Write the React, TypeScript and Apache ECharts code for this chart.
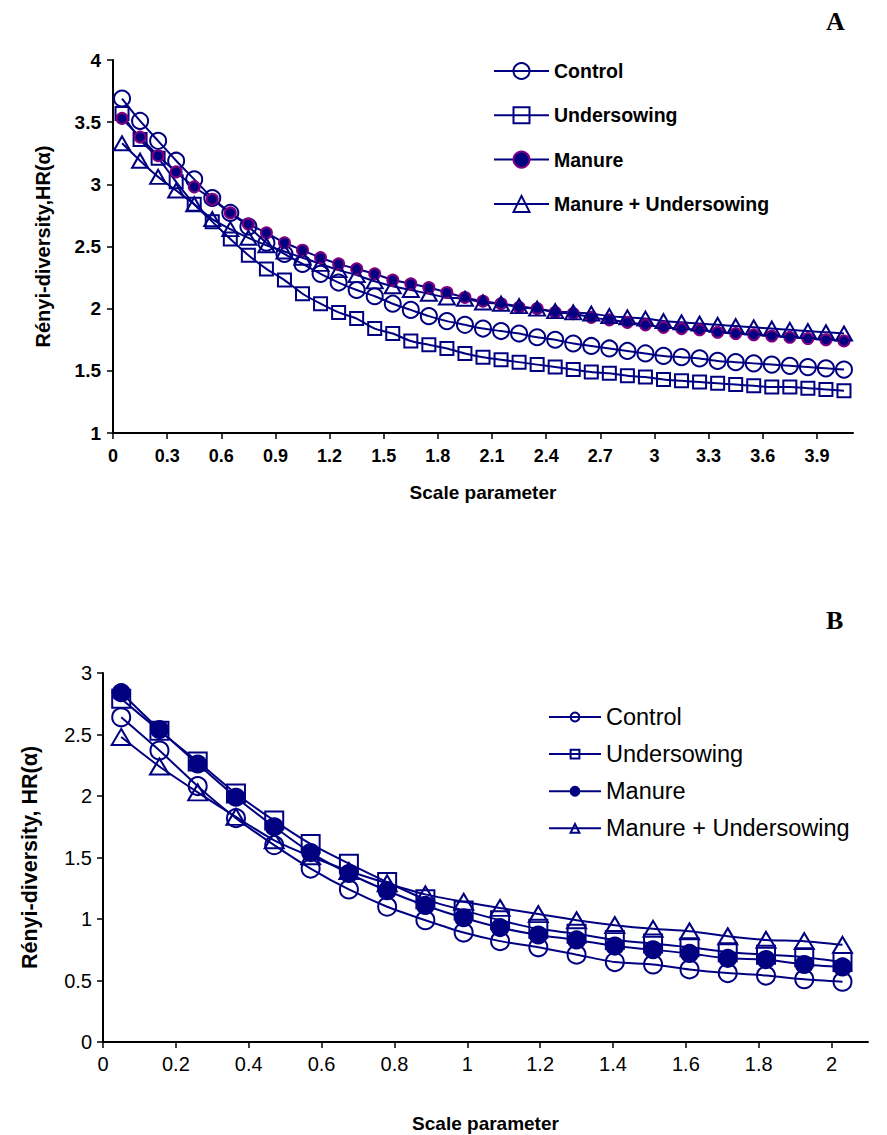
import React, { useEffect, useRef } from 'react';
import * as echarts from 'echarts';

// ---------- Panel A data ----------
const xA = [0.05, 0.15, 0.25, 0.35, 0.45, 0.55, 0.65, 0.75, 0.85, 0.95, 1.05, 1.15, 1.25, 1.35, 1.45, 1.55, 1.65, 1.75, 1.85, 1.95, 2.05, 2.15, 2.25, 2.35, 2.45, 2.55, 2.65, 2.75, 2.85, 2.95, 3.05, 3.15, 3.25, 3.35, 3.45, 3.55, 3.65, 3.75, 3.85, 3.95, 4.05];
const controlA = [3.69, 3.51, 3.35, 3.19, 3.04, 2.89, 2.77, 2.66, 2.53, 2.44, 2.36, 2.28, 2.21, 2.15, 2.10, 2.04, 1.99, 1.94, 1.90, 1.87, 1.84, 1.82, 1.80, 1.77, 1.75, 1.72, 1.70, 1.68, 1.66, 1.64, 1.62, 1.61, 1.60, 1.58, 1.57, 1.56, 1.55, 1.54, 1.53, 1.52, 1.51];
const underA = [3.57, 3.36, 3.21, 3.02, 2.84, 2.70, 2.56, 2.43, 2.32, 2.23, 2.12, 2.04, 1.97, 1.92, 1.84, 1.80, 1.74, 1.71, 1.68, 1.64, 1.61, 1.59, 1.57, 1.55, 1.53, 1.51, 1.49, 1.48, 1.46, 1.45, 1.43, 1.42, 1.41, 1.40, 1.39, 1.38, 1.37, 1.37, 1.36, 1.35, 1.34];
const manureA = [3.53, 3.38, 3.23, 3.10, 2.98, 2.88, 2.77, 2.68, 2.61, 2.53, 2.47, 2.41, 2.36, 2.32, 2.28, 2.23, 2.20, 2.17, 2.13, 2.09, 2.06, 2.04, 2.01, 2.00, 1.97, 1.96, 1.93, 1.91, 1.89, 1.87, 1.85, 1.84, 1.83, 1.81, 1.80, 1.79, 1.78, 1.77, 1.76, 1.75, 1.74];
const muA = [3.33, 3.19, 3.06, 2.95, 2.84, 2.72, 2.64, 2.57, 2.51, 2.46, 2.41, 2.36, 2.31, 2.27, 2.22, 2.18, 2.15, 2.12, 2.09, 2.08, 2.05, 2.04, 2.02, 2.00, 1.98, 1.97, 1.96, 1.94, 1.93, 1.92, 1.90, 1.89, 1.88, 1.87, 1.86, 1.85, 1.84, 1.83, 1.82, 1.81, 1.80];
const xTicksA = [0, 0.3, 0.6, 0.9, 1.2, 1.5, 1.8, 2.1, 2.4, 2.7, 3, 3.3, 3.6, 3.9];

// ---------- Panel B data ----------
const xB = [0.05, 0.155, 0.26, 0.365, 0.47, 0.57, 0.675, 0.78, 0.885, 0.99, 1.09, 1.195, 1.30, 1.405, 1.51, 1.61, 1.715, 1.82, 1.925, 2.03];
const controlB = [2.64, 2.37, 2.08, 1.82, 1.60, 1.41, 1.24, 1.10, 0.99, 0.89, 0.82, 0.77, 0.71, 0.65, 0.63, 0.59, 0.56, 0.54, 0.51, 0.49];
const underB = [2.79, 2.53, 2.28, 2.02, 1.80, 1.61, 1.45, 1.30, 1.16, 1.07, 0.99, 0.92, 0.88, 0.83, 0.80, 0.77, 0.73, 0.71, 0.69, 0.65];
const manureB = [2.84, 2.54, 2.26, 1.99, 1.75, 1.54, 1.37, 1.23, 1.11, 1.01, 0.93, 0.87, 0.83, 0.78, 0.75, 0.72, 0.68, 0.67, 0.63, 0.61];
const muB = [2.48, 2.24, 2.03, 1.83, 1.64, 1.51, 1.39, 1.29, 1.20, 1.14, 1.09, 1.04, 0.99, 0.95, 0.92, 0.90, 0.86, 0.83, 0.82, 0.79];
const xTicksB = [0, 0.2, 0.4, 0.6, 0.8, 1, 1.2, 1.4, 1.6, 1.8, 2];

const seriesNames = ['Control', 'Undersowing', 'Manure', 'Manure + Undersowing'];

const NAVY = '#000080';
const PURPLE = '#800080';
const FONT = '"Liberation Sans", Arial, sans-serif';

function mk(name: string, xs: number[], ys: number[], symbol: string, size: number | number[], fill: string, border: string, idx: number) {
  return {
    type: 'line',
    name,
    xAxisIndex: idx,
    yAxisIndex: idx,
    data: xs.map((x, i) => [x, ys[i]]),
    symbol,
    symbolSize: size,
    showAllSymbol: true,
    smooth: 0.25,
    lineStyle: { color: NAVY, width: 2 },
    itemStyle: { color: fill, borderColor: border, borderWidth: 2 },
    emphasis: { disabled: true },
  };
}

export default function App() {
  const ref = useRef<HTMLDivElement>(null);
  useEffect(() => {
    if (!ref.current) return;
    const chart = echarts.init(ref.current, undefined, { renderer: 'svg' });
    const bName = (n: string) => n + ' ';
    const option: any = {
      animation: false,
      backgroundColor: '#ffffff',
      textStyle: { fontFamily: FONT },
      graphic: [
        { type: 'text', left: 826, top: 8, style: { text: 'A', font: 'bold 26px "Liberation Serif", serif', fill: '#000' } },
        { type: 'text', left: 826, top: 607, style: { text: 'B', font: 'bold 26px "Liberation Serif", serif', fill: '#000' } },
      ],
      legend: [
        {
          orient: 'vertical', left: 493, top: 61, padding: 0, itemWidth: 55, itemHeight: 20, itemGap: 24.3,
          data: seriesNames,
          textStyle: { fontFamily: FONT, fontWeight: 'bold', fontSize: 19.5, color: '#000' },
          selectedMode: false,
        },
        {
          orient: 'vertical', left: 548, top: 705, padding: 0, itemWidth: 52, itemHeight: 11, itemGap: 13.1,
          data: seriesNames.map(bName),
          formatter: (n: string) => n.trim(),
          textStyle: { fontFamily: FONT, fontSize: 23.5, color: '#000' },
          selectedMode: false,
        },
      ],
      grid: [
        { left: 113, top: 60, width: 740, height: 373, outerBoundsMode: 'none', containLabel: false },
        { left: 103, top: 673, width: 765, height: 369, outerBoundsMode: 'none', containLabel: false },
      ],
      xAxis: [
        {
          type: 'value', gridIndex: 0, min: 0, max: 4.1,
          name: 'Scale parameter', nameLocation: 'middle', nameGap: 50,
          nameTextStyle: { fontFamily: FONT, fontWeight: 'bold', fontSize: 19, color: '#000' },
          axisLine: { lineStyle: { color: '#000', width: 2 } },
          axisTick: { customValues: xTicksA, length: 6, lineStyle: { color: '#000', width: 1.5 } },
          axisLabel: { customValues: xTicksA, formatter: (v: number) => String(v), margin: 14, fontFamily: FONT, fontWeight: 'bold', fontSize: 18, color: '#000' },
          splitLine: { show: false },
        },
        {
          type: 'value', gridIndex: 1, min: 0, max: 2.1,
          name: 'Scale parameter', nameLocation: 'middle', nameGap: 72,
          nameTextStyle: { fontFamily: FONT, fontWeight: 'bold', fontSize: 19, color: '#000' },
          axisLine: { lineStyle: { color: '#000', width: 2 } },
          axisTick: { customValues: xTicksB, length: 6, lineStyle: { color: '#000', width: 1.5 } },
          axisLabel: { customValues: xTicksB, formatter: (v: number) => String(v), margin: 12, fontFamily: FONT, fontSize: 20, color: '#000' },
          splitLine: { show: false },
        },
      ],
      yAxis: [
        {
          type: 'value', gridIndex: 0, min: 1, max: 4, interval: 0.5,
          name: 'Rényi-diversity,HR(α)', nameLocation: 'middle', nameGap: 60, nameRotate: 90,
          nameTextStyle: { fontFamily: FONT, fontWeight: 'bold', fontSize: 20, color: '#000' },
          axisLine: { show: true, lineStyle: { color: '#000', width: 2 } },
          axisTick: { show: true, length: 6, lineStyle: { color: '#000', width: 1.5 } },
          axisLabel: { margin: 12, fontFamily: FONT, fontWeight: 'bold', fontSize: 19, color: '#000' },
          splitLine: { show: false },
        },
        {
          type: 'value', gridIndex: 1, min: 0, max: 3, interval: 0.5,
          name: 'Rényi-diversity, HR(α)', nameLocation: 'middle', nameGap: 62, nameRotate: 90,
          nameTextStyle: { fontFamily: FONT, fontWeight: 'bold', fontSize: 21.5, color: '#000' },
          axisLine: { show: true, lineStyle: { color: '#000', width: 2 } },
          axisTick: { show: true, length: 6, lineStyle: { color: '#000', width: 1.5 } },
          axisLabel: { margin: 11, fontFamily: FONT, fontSize: 20, color: '#000' },
          splitLine: { show: false },
        },
      ],
      series: [
        mk('Control', xA, controlA, 'circle', 16, 'rgba(255,255,255,0)', NAVY, 0),
        mk('Undersowing', xA, underA, 'rect', 13, 'rgba(255,255,255,0)', NAVY, 0),
        mk('Manure', xA, manureA, 'circle', 11, NAVY, PURPLE, 0),
        mk('Manure + Undersowing', xA, muA, 'triangle', [16, 14], 'rgba(255,255,255,0)', NAVY, 0),
        mk(bName('Control'), xB, controlB, 'circle', 18, 'rgba(255,255,255,0)', NAVY, 1),
        mk(bName('Undersowing'), xB, underB, 'rect', 18, 'rgba(255,255,255,0)', NAVY, 1),
        mk(bName('Manure'), xB, manureB, 'circle', 17, NAVY, NAVY, 1),
        mk(bName('Manure + Undersowing'), xB, muB, 'triangle', [19, 16], 'rgba(255,255,255,0)', NAVY, 1),
      ],
    };
    chart.setOption(option);
    return () => chart.dispose();
  }, []);
  return <div ref={ref} style={{ position: 'absolute', left: 0, top: 0, width: 887, height: 1135 }} />;
}
